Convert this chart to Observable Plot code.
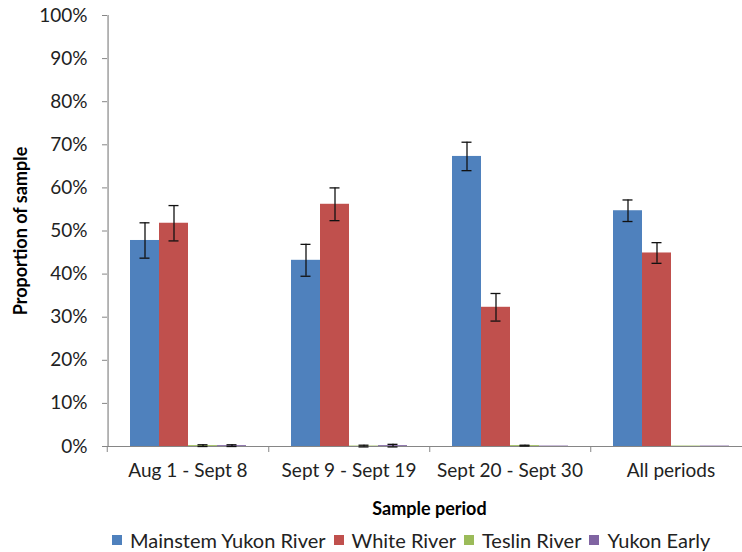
<!DOCTYPE html>
<html>
<head>
<meta charset="utf-8">
<script src="https://cdn.jsdelivr.net/npm/d3@7"></script>
<script src="https://cdn.jsdelivr.net/npm/@observablehq/plot@0.6"></script>
<style>
  html, body { margin: 0; padding: 0; background: #fff; overflow: hidden; }
  #chart { width: 742px; }
  .legend { display: flex; justify-content: flex-start; align-items: center; height: 24px; font: 20px Lato, sans-serif; color: #222; padding-left: 112px; }
  .legend .item { display: flex; align-items: center; margin-right: 8px; white-space: nowrap; }
  .legend .sw { width: 10px; height: 10px; margin-right: 8px; display: inline-block; }
</style>
</head>
<body>
<div id="chart"></div>
<script>
const categories = ["Aug 1 - Sept 8", "Sept 9 - Sept 19", "Sept 20 - Sept 30", "All periods"];
const series = ["Mainstem Yukon River", "White River", "Teslin River", "Yukon Early"];
const colors = ["#4F81BD", "#C0504D", "#9BBB59", "#8064A2"];

const mainstem = [0.478, 0.432, 0.673, 0.547];
const mainstemErr = [0.041, 0.037, 0.033, 0.025];
const white = [0.518, 0.562, 0.323, 0.449];
const whiteErr = [0.041, 0.038, 0.032, 0.024];
const teslin = [0.002, 0.001, 0.002, 0.001];
const teslinErr = [0.002, 0.002, 0.001, 0];
const yukonEarly = [0.002, 0.002, 0.001, 0.001];
const yukonEarlyErr = [0.002, 0.003, 0, 0];

const yTicks = [0, 0.1, 0.2, 0.3, 0.4, 0.5, 0.6, 0.7, 0.8, 0.9, 1.0];

const values = [mainstem, white, teslin, yukonEarly];
const errs = [mainstemErr, whiteErr, teslinErr, yukonEarlyErr];
const rows = categories.flatMap((c, i) => series.map((s, j) => ({
  category: c, series: s, value: values[j][i], err: errs[j][i]
})));
const errRows = rows.filter(d => d.err > 0);

const W = 742, H = 528;
const mL = 106, mT = 15, mB = H - 446;
const catW = 161.5;
const font = "Lato, sans-serif";

const plot = Plot.plot({
  width: W,
  height: H,
  marginLeft: mL,
  marginRight: 0,
  marginTop: mT,
  marginBottom: mB,
  style: { fontFamily: font, fontSize: "19px", color: "#222", background: "#fff", overflow: "visible" },
  fx: { domain: categories, range: [mL, mL + catW * categories.length], padding: 0, axis: null },
  x: { domain: series, paddingInner: 0, paddingOuter: 0.74, axis: null },
  y: { domain: [0, 1], axis: null },
  color: { domain: series, range: colors },
  marks: [
    Plot.barY(rows, { fx: "category", x: "series", y: "value", fill: "series" }),
    Plot.ruleY([0], { stroke: "#868686", strokeWidth: 1.2 }),
    Plot.ruleX([categories[0]], { fx: d => d, x: () => series[0], y1: 0, y2: 1, dx: -(catW * 0.1365 + 14.9), stroke: "#868686", strokeWidth: 1.2 }),
    Plot.ruleX(errRows, { fx: "category", x: "series", y1: d => d.value - d.err, y2: d => d.value + d.err, stroke: "#111", strokeWidth: 1.3 }),
    Plot.tickY(errRows, { fx: "category", x: "series", y: d => d.value - d.err, insetLeft: 9.5, insetRight: 9.5, stroke: "#111", strokeWidth: 1.3 }),
    Plot.tickY(errRows, { fx: "category", x: "series", y: d => d.value + d.err, insetLeft: 9.5, insetRight: 9.5, stroke: "#111", strokeWidth: 1.3 }),
    Plot.axisY({ ticks: yTicks, tickFormat: d3.format(".0%"), tickSize: 5, tickPadding: 15, stroke: "#868686", fill: "#222", label: null }),
    Plot.axisY({ ticks: [], label: "Proportion of sample", labelAnchor: "center", labelArrow: "none", labelOffset: 93, fontWeight: "bold", fontSize: 18, fill: "#000" }),
    Plot.axisFx({ anchor: "bottom", tickSize: 0, tickPadding: 17, label: null, fill: "#222" }),
    Plot.axisFx({ anchor: "bottom", tickSize: 6, tickFormat: () => "", dx: catW / 2, stroke: "#868686", label: null }),
    Plot.axisFx({ anchor: "bottom", ticks: [categories[0]], tickSize: 6, tickFormat: () => "", dx: -catW / 2, stroke: "#868686", label: null }),
    Plot.axisFx({ anchor: "bottom", ticks: [], label: "Sample period", labelAnchor: "center", labelArrow: "none", labelOffset: 68, fontWeight: "bold", fontSize: 18, fill: "#000" })
  ]
});
document.getElementById("chart").appendChild(plot);

const legend = document.createElement("div");
legend.className = "legend";
series.forEach((s, i) => {
  const item = document.createElement("span");
  item.className = "item";
  const sw = document.createElement("span");
  sw.className = "sw";
  sw.style.background = colors[i];
  item.appendChild(sw);
  item.appendChild(document.createTextNode(s));
  legend.appendChild(item);
});
document.getElementById("chart").appendChild(legend);
</script>
</body>
</html>
